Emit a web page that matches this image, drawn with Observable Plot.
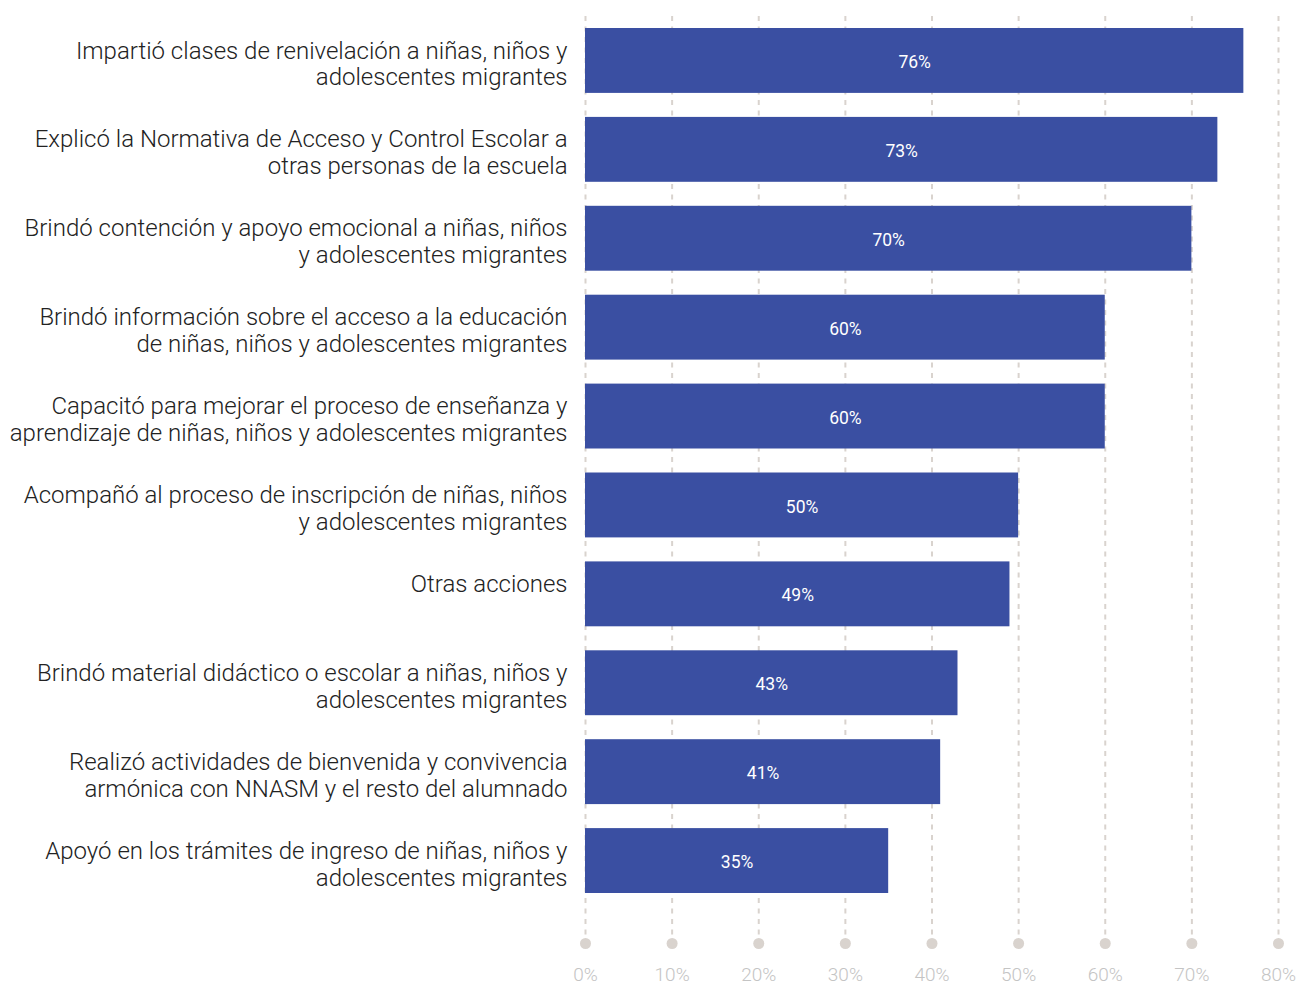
<!DOCTYPE html>
<html>
<head>
<meta charset="utf-8">
<script src="https://cdn.jsdelivr.net/npm/d3@7"></script>
<script src="https://cdn.jsdelivr.net/npm/@observablehq/plot@0.6"></script>
<style>
  html, body { margin: 0; padding: 0; background: #fff; }
  #chart svg { display: block; }
</style>
</head>
<body>
<div id="chart"></div>
<script>
const categories = [
  "Impartió clases de renivelación a niñas, niños y\nadolescentes migrantes",
  "Explicó la Normativa de Acceso y Control Escolar a\notras personas de la escuela",
  "Brindó contención y apoyo emocional a niñas, niños\ny adolescentes migrantes",
  "Brindó información sobre el acceso a la educación\nde niñas, niños y adolescentes migrantes",
  "Capacitó para mejorar el proceso de enseñanza y\naprendizaje de niñas, niños y adolescentes migrantes",
  "Acompañó al proceso de inscripción de niñas, niños\ny adolescentes migrantes",
  "Otras acciones",
  "Brindó material didáctico o escolar a niñas, niños y\nadolescentes migrantes",
  "Realizó actividades de bienvenida y convivencia\narmónica con NNASM y el resto del alumnado",
  "Apoyó en los trámites de ingreso de niñas, niños y\nadolescentes migrantes"
];
const values = [76, 73, 70, 60, 60, 50, 49, 43, 41, 35];
const xTicks = [0, 10, 20, 30, 40, 50, 60, 70, 80];

const data = categories.map((c, i) => ({category: c, value: values[i]}));

const chart = Plot.plot({
  width: 1296,
  height: 984,
  marginLeft: 585,
  marginRight: 18,
  marginTop: 16,
  marginBottom: 79,
  style: {fontFamily: "Roboto, 'Noto Sans', sans-serif", background: "#fff"},
  x: {domain: [0, 80], axis: null},
  y: {domain: categories, range: [16, 905], paddingInner: 0.27, paddingOuter: 0.135, round: false, axis: null},
  marks: [
    Plot.ruleX(xTicks, {x: d => d, stroke: "#d9d3ce", strokeWidth: 2, strokeDasharray: "5,5.5", insetBottom: -30}),
    Plot.barX(data, {x: "value", y: "category", fill: "#3a4fa2"}),
    Plot.text(data, {
      x: d => d.value / 2, y: "category", text: d => d.value + "%",
      fill: "#fff", fontSize: 17.5, fontWeight: 400, dy: 1.5
    }),
    Plot.text(data, {
      x: 0, y: "category", text: "category", textAnchor: "end", dx: -18,
      lineAnchor: "top", dy: -21.5, lineHeight: 1.12,
      fontSize: 24, fontWeight: 300, fill: "#222"
    }),
    Plot.dot(xTicks, {x: d => d, frameAnchor: "bottom", dy: 38, r: 5.5, fill: "#d9d3ce", stroke: null}),
    Plot.text(xTicks, {
      x: d => d, frameAnchor: "bottom", dy: 75, text: d => d + "%",
      fill: "#c4c4c4", fontSize: 19, fontWeight: 300
    })
  ]
});
document.getElementById("chart").appendChild(chart);
</script>
</body>
</html>
